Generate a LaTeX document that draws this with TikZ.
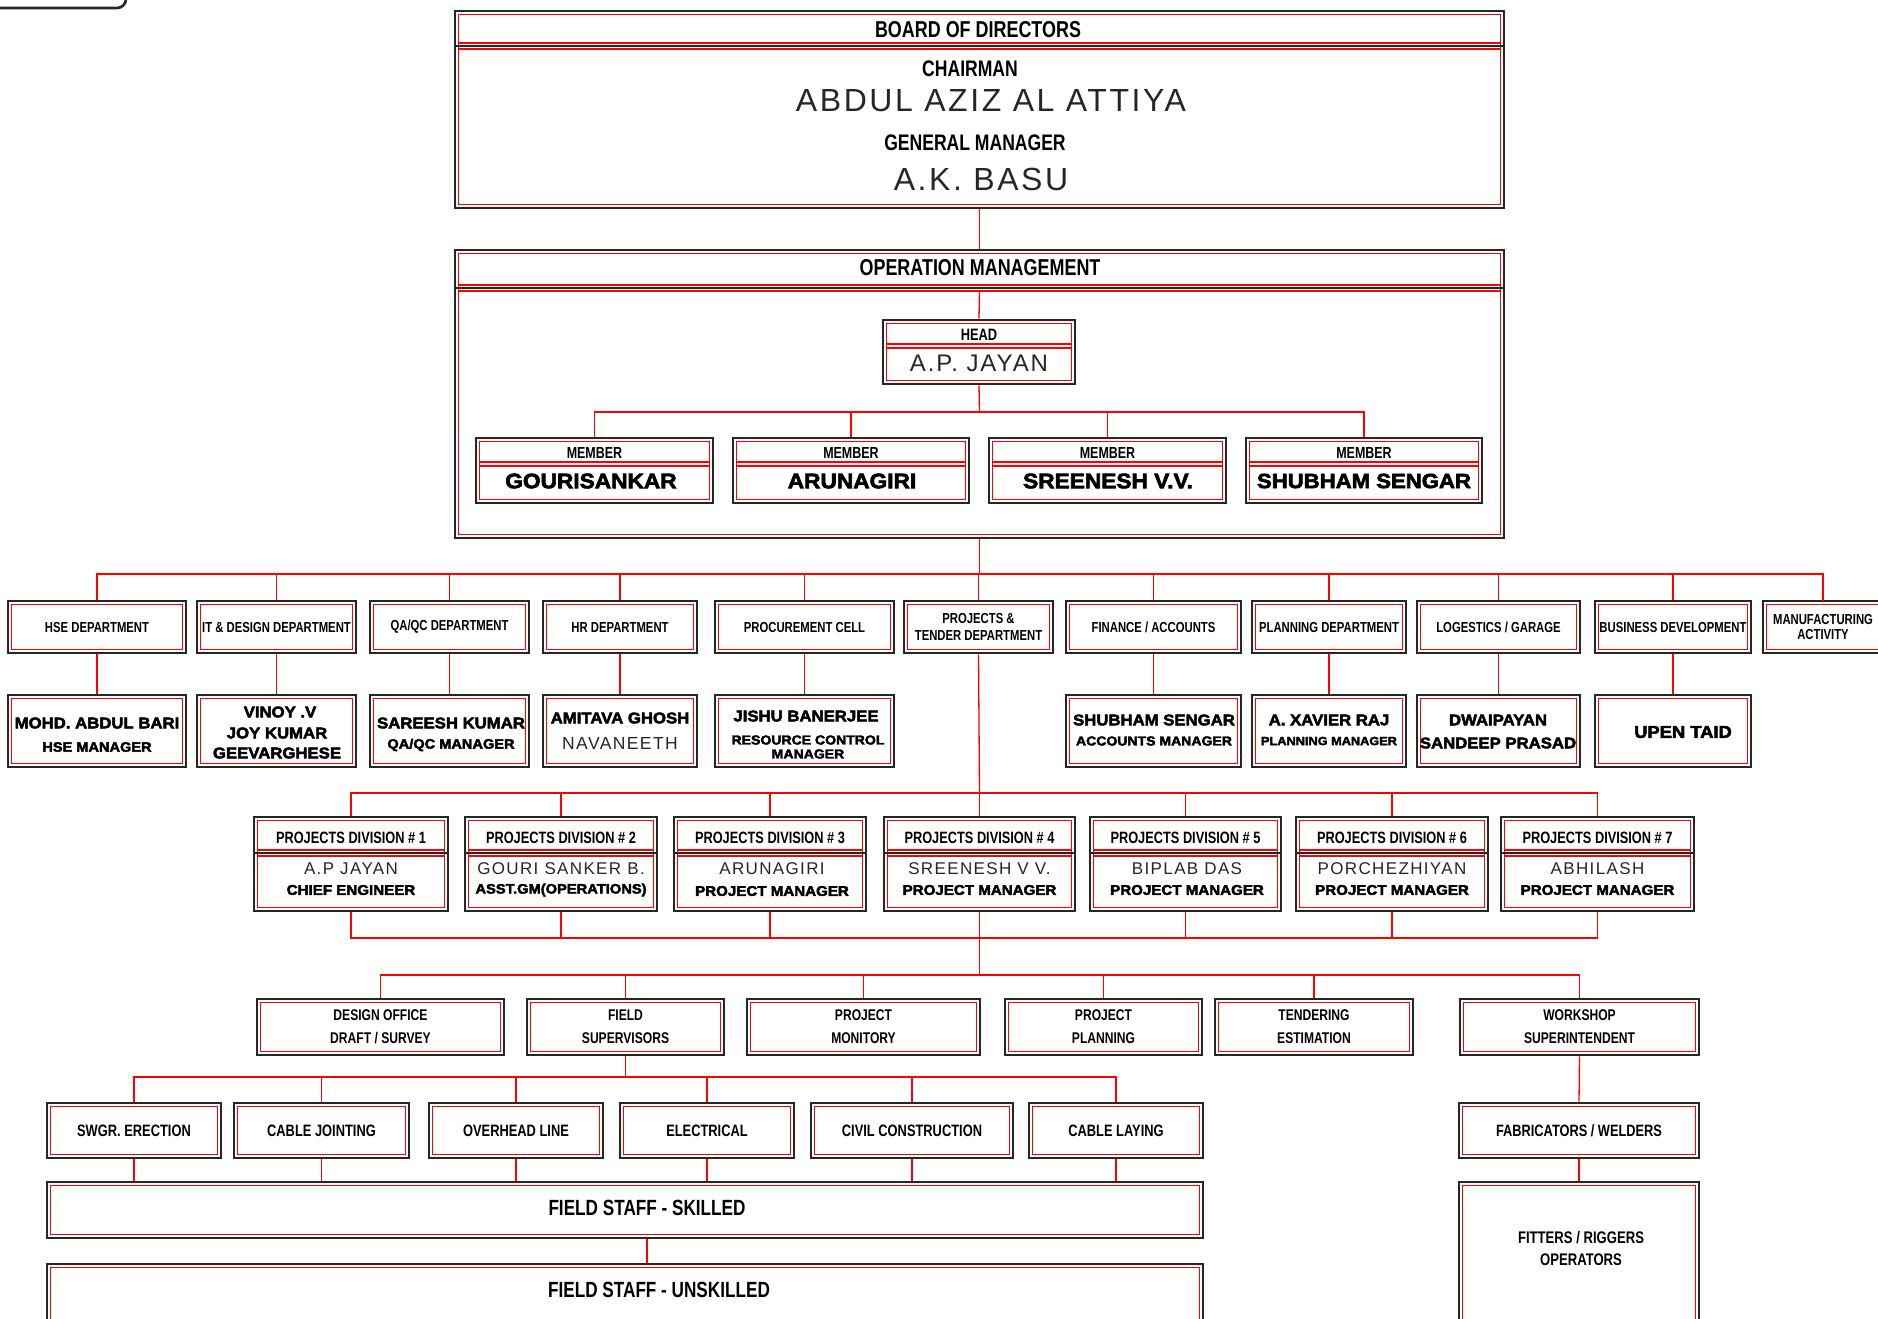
\documentclass[tikz,border=0pt]{standalone}
\usepackage{fontspec}
\setmainfont{Liberation Sans}
\newfontfamily\nar[FakeStretch=0.78]{Liberation Sans}
\newfontfamily\hvy[FakeStretch=1.08,FakeBold=3]{Liberation Sans}
\newfontfamily\thn[LetterSpace=8]{Liberation Sans}
\newcommand\fsz[2]{\fontsize{#1}{#2}\selectfont}
\newcommand\ebox[7][]{%
  \pgfmathsetmacro\eBCX{(#3+#5)/2}%
  \pgfmathsetmacro\eBCY{(#4+#6)/2}%
  \pgfmathsetmacro\eBW{#5-#3}%
  \pgfmathsetmacro\eBH{#6-#4}%
  \node[bx,minimum width=\eBW pt,minimum height=\eBH pt,#1] (#2) at (\eBCX,\eBCY) {#7};}
% divider with black line
\newcommand\edv[3]{%
  \draw[black!85,line width=1.8pt] (#1,#3) -- (#2,#3);
  \draw[red,line width=1.1pt] (#1+3.8,#3-3) -- (#2-3.8,#3-3) (#1+3.8,#3+3) -- (#2-3.8,#3+3);}
% divider red only
\newcommand\erd[3]{%
  \draw[red,line width=1.1pt] (#1+3.8,#3-2) -- (#2-3.8,#3-2) (#1+3.8,#3+2) -- (#2-3.8,#3+2);}
\tikzset{
  bx/.style={draw=black!85, line width=2.6pt, rectangle, inner sep=0pt, align=center,
    path picture={\draw[red, line width=1.3pt]
      ([shift={(3.8pt,-3.8pt)}]path picture bounding box.north west) rectangle
      ([shift={(-3.8pt,3.8pt)}]path picture bounding box.south east);}},
  ln/.style={red, line width=1.3pt},
  lb/.style={inner sep=0pt, align=center, text=black},
  nr/.style={lb, font=\nar\bfseries\fsz{#1}{#1}},
  hv/.style={lb, font=\hvy\bfseries\fsz{#1}{#1}},
  tn/.style={lb, text=black!85, font=\thn\fsz{#1}{#1}},
  dep/.style={font=\nar\bfseries\fsz{14.5}{17}},
  trd/.style={font=\nar\bfseries\fsz{16.5}{17}},
  low/.style={font=\nar\bfseries\fsz{15.5}{23}},
}
\begin{document}
\begin{tikzpicture}[x=1pt,y=-1pt]
\useasboundingbox (0,0) rectangle (1878,1318);
\draw[black!85,line width=2.6pt,rounded corners=9pt] (-10,-40) -- (-10,8) -- (126,8) -- (126,-40);

% ---------- Board of directors
\ebox{bod}{455}{11}{1504}{208}{}
\edv{455}{1504}{46}
\node[nr=23] (bodT) at (978,30) {BOARD OF DIRECTORS};
\node[nr=22.5] (chT) at (970,69) {CHAIRMAN};
\node[tn=32] (chN) at (991,101) {ABDUL AZIZ AL ATTIYA};
\node[nr=22.5] (gmT) at (975,143) {GENERAL MANAGER};
\node[tn=32] (gmN) at (981,179) {A.K. BASU};

% ---------- Operation management
\ebox{op}{455}{250}{1504}{538}{}
\edv{455}{1504}{288}
\node[nr=23] (opT) at (980,268) {OPERATION MANAGEMENT};
\coordinate (opdiv) at (979.5,290);
\ebox{head}{883}{320}{1075}{384}{}
\erd{883}{1075}{346}
\node[nr=16.5] (headT) at (979,335) {HEAD};
\node[tn=24] (headN) at (979,363) {A.P. JAYAN};
\ebox{mem1}{476}{438}{713}{503}{}
\ebox{mem2}{733}{438}{969}{503}{}
\ebox{mem3}{989}{438}{1226}{503}{}
\ebox{mem4}{1246}{438}{1482}{503}{}
\erd{476}{713}{464}\erd{733}{969}{464}\erd{989}{1226}{464}\erd{1246}{1482}{464}
\node[nr=16] (m1T) at (594.5,453) {MEMBER};
\node[nr=16] (m2T) at (851,453) {MEMBER};
\node[nr=16] (m3T) at (1107.5,453) {MEMBER};
\node[nr=16] (m4T) at (1364,453) {MEMBER};
\node[hv=21] (m1N) at (591,481) {GOURISANKAR};
\node[hv=21] (m2N) at (852,481) {ARUNAGIRI};
\node[hv=21] (m3N) at (1108,481) {SREENESH V.V.};
\node[hv=20.5] (m4N) at (1364,481) {SHUBHAM SENGAR};

% ---------- Departments
\ebox[dep]{hse}{8}{601}{186}{653}{HSE DEPARTMENT}
\ebox[dep]{it}{197}{601}{356}{653}{IT \& DESIGN DEPARTMENT}
\ebox[dep]{qa}{370}{601}{529}{653}{QA/QC DEPARTMENT}
\ebox[dep]{hr}{543}{601}{697}{653}{HR DEPARTMENT}
\ebox[dep]{proc}{715}{601}{894}{653}{PROCUREMENT CELL}
\ebox[dep]{ptd}{904}{601}{1053}{653}{PROJECTS \&\\TENDER DEPARTMENT}
\ebox[dep]{fin}{1066}{601}{1241}{653}{FINANCE / ACCOUNTS}
\ebox[dep]{plan}{1252}{601}{1406}{653}{PLANNING DEPARTMENT}
\ebox[dep]{log}{1417}{601}{1580}{653}{LOGESTICS / GARAGE}
\ebox[dep]{bd}{1595}{601}{1751}{653}{BUSINESS DEVELOPMENT}
\ebox{mfg}{1763}{601}{1900}{653}{}
\node[lb,font=\nar\bfseries\fsz{14.5}{15.5}] (mfgT) at (1823,627) {MANUFACTURING\\ACTIVITY};
\coordinate (mfgx) at (1823,601);

% ---------- Department heads
\ebox{hsem}{8}{695}{186}{767}{}
\node[hv=15.5] (hsemA) at (97,723) {MOHD. ABDUL BARI};
\node[hv=13.5] (hsemB) at (97,747) {HSE MANAGER};
\ebox{itm}{197}{695}{356}{767}{}
\node[hv=15.5] (itmA) at (280,712) {VINOY .V};
\node[hv=15.5] (itmB) at (277,733) {JOY KUMAR};
\node[hv=15.5] (itmC) at (277,753) {GEEVARGHESE};
\ebox{qam}{370}{695}{529}{767}{}
\node[hv=15.5] (qamA) at (451,723) {SAREESH KUMAR};
\node[hv=13.5] (qamB) at (451,745) {QA/QC MANAGER};
\ebox{hrm}{543}{695}{697}{767}{}
\node[hv=15.5] (hrmA) at (620,718) {AMITAVA GHOSH};
\node[tn=17.5] (hrmB) at (620,743) {NAVANEETH};
\ebox{procm}{715}{695}{894}{767}{}
\node[hv=15.5] (procmA) at (806,716) {JISHU BANERJEE};
\node[hv=13] (procmB) at (808,740) {RESOURCE CONTROL};
\node[hv=13] (procmC) at (808,754) {MANAGER};
\ebox{finm}{1066}{695}{1241}{767}{}
\node[hv=15.5] (finmA) at (1154,720) {SHUBHAM SENGAR};
\node[hv=13] (finmB) at (1154,741) {ACCOUNTS MANAGER};
\ebox{planm}{1252}{695}{1406}{767}{}
\node[hv=15.5] (planmA) at (1329,720) {A. XAVIER RAJ};
\node[hv=11.8] (planmB) at (1329,741) {PLANNING MANAGER};
\ebox{logm}{1417}{695}{1580}{767}{}
\node[hv=15.5] (logmA) at (1498,720) {DWAIPAYAN};
\node[hv=15.5] (logmB) at (1498,743) {SANDEEP PRASAD};
\ebox{bdm}{1595}{695}{1751}{767}{}
\node[hv=17] (bdmA) at (1683,732) {UPEN TAID};

% ---------- Project divisions
\ebox{d1}{254}{817}{448}{911}{}
\ebox{d2}{465}{817}{657}{911}{}
\ebox{d3}{674}{817}{866}{911}{}
\ebox{d4}{884}{817}{1075}{911}{}
\ebox{d5}{1090}{817}{1281}{911}{}
\ebox{d6}{1296}{817}{1488}{911}{}
\ebox{d7}{1501}{817}{1694}{911}{}
\edv{254}{448}{853}\edv{465}{657}{853}\edv{674}{866}{853}\edv{884}{1075}{853}
\edv{1090}{1281}{853}\edv{1296}{1488}{853}\edv{1501}{1694}{853}
\node[nr=16.4] (d1T) at (351,838) {PROJECTS DIVISION \# 1};
\node[nr=16.4] (d2T) at (561,838) {PROJECTS DIVISION \# 2};
\node[nr=16.4] (d3T) at (770,838) {PROJECTS DIVISION \# 3};
\node[nr=16.4] (d4T) at (979.5,838) {PROJECTS DIVISION \# 4};
\node[nr=16.4] (d5T) at (1185.5,838) {PROJECTS DIVISION \# 5};
\node[nr=16.4] (d6T) at (1392,838) {PROJECTS DIVISION \# 6};
\node[nr=16.4] (d7T) at (1597.5,838) {PROJECTS DIVISION \# 7};
\node[tn=17] (d1N) at (351,869) {A.P JAYAN};
\node[tn=17] (d2N) at (561,869) {GOURI SANKER B.};
\node[tn=17] (d3N) at (772,869) {ARUNAGIRI};
\node[tn=17] (d4N) at (979.5,869) {SREENESH V V.};
\node[tn=17] (d5N) at (1187,869) {BIPLAB DAS};
\node[tn=17] (d6N) at (1392,869) {PORCHEZHIYAN};
\node[tn=17] (d7N) at (1597.5,869) {ABHILASH};
\node[hv=14] (d1R) at (351,890) {CHIEF ENGINEER};
\node[hv=13.6] (d2R) at (561,890) {ASST.GM(OPERATIONS)};
\node[hv=14] (d3R) at (772,891) {PROJECT MANAGER};
\node[hv=14] (d4R) at (979.5,890) {PROJECT MANAGER};
\node[hv=14] (d5R) at (1187,890) {PROJECT MANAGER};
\node[hv=14] (d6R) at (1392,890) {PROJECT MANAGER};
\node[hv=14] (d7R) at (1597.5,890) {PROJECT MANAGER};

% ---------- Functions
\ebox[low]{des}{257}{999}{504}{1055}{DESIGN OFFICE\\DRAFT / SURVEY}
\ebox[low]{fs}{527}{999}{724}{1055}{FIELD\\SUPERVISORS}
\ebox[low]{pm}{747}{999}{980}{1055}{PROJECT\\MONITORY}
\ebox[low]{pp}{1005}{999}{1202}{1055}{PROJECT\\PLANNING}
\ebox[low]{ten}{1215}{999}{1413}{1055}{TENDERING\\ESTIMATION}
\ebox[low]{ws}{1460}{999}{1699}{1055}{WORKSHOP\\SUPERINTENDENT}

% ---------- Trades
\ebox[trd]{sw}{47}{1103}{221}{1158}{SWGR. ERECTION}
\ebox[trd]{cj}{234}{1103}{409}{1158}{CABLE JOINTING}
\ebox[trd]{oh}{429}{1103}{603}{1158}{OVERHEAD LINE}
\ebox[trd]{el}{620}{1103}{794}{1158}{ELECTRICAL}
\ebox[trd]{cc}{811}{1103}{1013}{1158}{CIVIL CONSTRUCTION}
\ebox[trd]{cl}{1029}{1103}{1203}{1158}{CABLE LAYING}
\ebox{sk}{47}{1182}{1203}{1238}{}
\node[nr=22] (skT) at (647,1208) {FIELD STAFF - SKILLED};
\ebox{unsk}{47}{1264}{1203}{1345}{}
\node[nr=22] (unskT) at (659,1290) {FIELD STAFF - UNSKILLED};
\ebox[font=\nar\bfseries\fsz{16.4}{17}]{fab}{1459}{1103}{1699}{1158}{FABRICATORS / WELDERS}
\ebox{fit}{1459}{1182}{1699}{1345}{}
\node[lb,font=\nar\bfseries\fsz{16.8}{22}] (fitT) at (1581,1248) {FITTERS / RIGGERS\\OPERATORS};

% ---------- Connectors
\draw[ln] (bod.south) -- (op.north);
\draw[ln] (opdiv) -- (head.north);
\coordinate (mbus) at (979.5,412);
\draw[ln] (head.south) -- (mbus);
\draw[ln] (mem1.north) |- (mbus) -| (mem4.north);
\draw[ln] (mem2.north) -- (mem2.north |- mbus);
\draw[ln] (mem3.north) -- (mem3.north |- mbus);

\coordinate (dbus) at (979.5,574);
\draw[ln] (op.south) -- (dbus);
\draw[ln] (hse.north) |- (dbus) -| (mfgx);
\foreach \n in {it,qa,hr,proc,ptd,fin,plan,log,bd}
  \draw[ln] (\n.north) -- (\n.north |- dbus);
\foreach \n in {hse,it,qa,hr,proc,fin,plan,log,bd}
  \draw[ln] (\n.south) -- (\n m.north);

\coordinate (pbus) at (979.5,793);
\draw[ln] (ptd.south) -- (pbus);
\draw[ln] (d1.north) |- (pbus) -| (d7.north);
\foreach \n in {d2,d3,d4,d5,d6}
  \draw[ln] (\n.north) -- (\n.north |- pbus);
\coordinate (pbus2) at (979.5,938);
\draw[ln] (d1.south) |- (pbus2) -| (d7.south);
\foreach \n in {d2,d3,d4,d5,d6}
  \draw[ln] (\n.south) -- (\n.south |- pbus2);
\coordinate (sbus) at (979.5,975);
\draw[ln] (pbus2) -- (sbus);
\draw[ln] (des.north) |- (sbus) -| (ws.north);
\foreach \n in {fs,pm,pp,ten}
  \draw[ln] (\n.north) -- (\n.north |- sbus);

\coordinate (tbus) at (625.5,1077);
\draw[ln] (fs.south) -- (tbus);
\draw[ln] (sw.north) |- (tbus) -| (cl.north);
\foreach \n in {cj,oh,el,cc}
  \draw[ln] (\n.north) -- (\n.north |- tbus);
\foreach \n in {sw,cj,oh,el,cc,cl}
  \draw[ln] (\n.south) -- (\n.south |- sk.north);
\coordinate (skx) at (647,1238);
\draw[ln] (skx |- sk.south) -- (skx |- unsk.north);
\draw[ln] (ws.south) -- (fab.north);
\draw[ln] (fab.south) -- (fit.north);
\end{tikzpicture}
\end{document}
